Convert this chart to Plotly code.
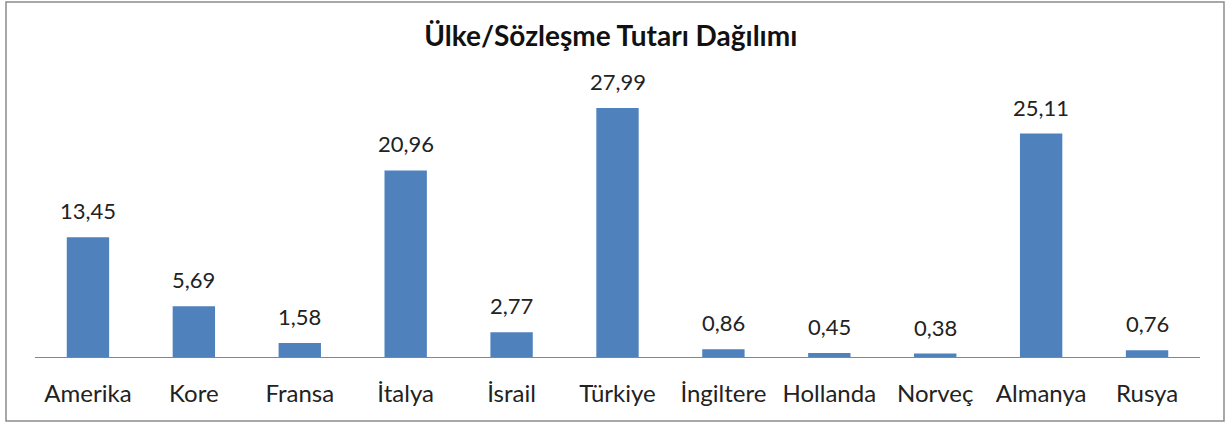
import plotly.graph_objects as go

countries = ["Amerika", "Kore", "Fransa", "İtalya", "İsrail", "Türkiye", "İngiltere", "Hollanda", "Norveç", "Almanya", "Rusya"]
values = [13.45, 5.69, 1.58, 20.96, 2.77, 27.99, 0.86, 0.45, 0.38, 25.11, 0.76]

W, H = 1229, 424
L, R, T, B = 35, 29, 60, 67
pw, ph = W - L - R, H - T - B
ymax = ph / 8.9
FONT = "Lato"

fig = go.Figure(go.Bar(
    x=countries, y=values,
    marker=dict(color="#4F81BD", line=dict(width=0)),
    hoverinfo="x+y",
))

annotations = [
    dict(x=c, y=v, xref="x", yref="y", text=f"{v:.2f}".replace(".", ","),
         showarrow=False, yanchor="bottom", yshift=11,
         font=dict(size=22, color="#222222", family=FONT))
    for c, v in zip(countries, values)
]

fig.update_layout(
    width=W, height=H,
    margin=dict(l=L, r=R, t=T, b=B),
    separators=",.",
    bargap=0.6,
    plot_bgcolor="white", paper_bgcolor="white",
    font=dict(family=FONT, color="#222222"),
    title=dict(text="<b>Ülke/Sözleşme Tutarı Dağılımı</b>", x=0.497, xanchor="center",
               y=1 - 36 / H, yanchor="middle", font=dict(size=28, color="#111111", family=FONT)),
    showlegend=False,
    xaxis=dict(showline=True, linecolor="#868686", linewidth=1, ticks="",
               tickfont=dict(size=24, color="#222222", family=FONT), ticklabelstandoff=15,
               showgrid=False),
    yaxis=dict(range=[0, ymax], visible=False, showgrid=False),
    annotations=annotations,
    shapes=[dict(type="rect", xref="paper", yref="paper",
                 x0=(6 - L) / pw, x1=(1224 - L) / pw,
                 y0=(T + ph - 421) / ph, y1=(T + ph - 2) / ph,
                 line=dict(color="#8c8c8c", width=1.5), fillcolor="rgba(0,0,0,0)")],
)

fig.write_html("out.html", config={"displayModeBar": False},
               post_script="document.body.style.margin='0';")
